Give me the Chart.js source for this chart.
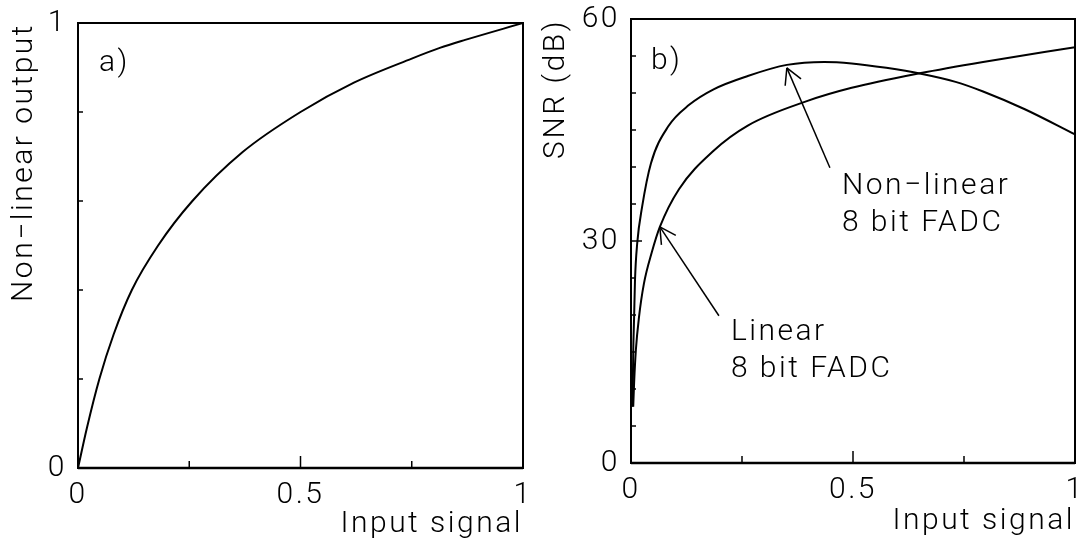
<!DOCTYPE html>
<html>
<head>
<meta charset="utf-8">
<script src="https://cdn.jsdelivr.net/npm/chart.js@4.4.0/dist/chart.umd.min.js"></script>
<style>
  html, body { margin: 0; padding: 0; background: #fff; }
  #wrap { position: relative; width: 1083px; height: 542px; }
  .box { position: absolute; top: 0; height: 542px; }
  #box-a { left: 0; width: 541px; }
  #box-b { left: 541px; width: 542px; }
</style>
</head>
<body>
<div id="wrap">
  <div class="box" id="box-a"><canvas id="grafico-a"></canvas></div>
  <div class="box" id="box-b"><canvas id="grafico-b"></canvas></div>
</div>
<script>
// panel a) transfer curve
const inputA  = [0, 0.02, 0.048, 0.08, 0.121, 0.18, 0.257, 0.37, 0.5, 0.62, 0.75, 0.813, 0.87, 1];
const outputA = [0, 0.09, 0.2, 0.3, 0.4, 0.5, 0.6, 0.71, 0.8, 0.866, 0.92, 0.944, 0.962, 1];

// panel b) SNR curves
const inputLin = [0.005, 0.007, 0.011, 0.018, 0.029, 0.047, 0.065, 0.108, 0.186, 0.263, 0.396, 0.497, 0.653, 0.793, 1];
const snrLin   = [7.6, 10.8, 15.3, 19.7, 24.2, 28.5, 31.9, 37.0, 42.2, 45.6, 48.9, 50.7, 52.7, 54.2, 56.2];
const inputNonLin = [0.003, 0.004, 0.005, 0.007, 0.009, 0.014, 0.025, 0.045, 0.084, 0.131, 0.186, 0.263, 0.351, 0.435, 0.497, 0.575, 0.653, 0.731, 0.793, 0.887, 1];
const snrNonLin   = [7.6, 9.9, 14.9, 19.7, 24.7, 29.7, 34.6, 40.5, 45.5, 48.4, 50.5, 52.3, 53.8, 54.2, 54.0, 53.4, 52.6, 51.5, 50.2, 47.8, 44.4];

// tick labels
const xTickLabels  = [0, 0.5, 1];
const yTickLabelsA = [0, 1];
const yTickLabelsB = [0, 30, 60];

// annotations of panel b), in data units
const notesB = [
  { lines: ['Non\u2212linear', '8 bit FADC'], x: 0.475, y: 37.3 },
  { lines: ['Linear', '8 bit FADC'], x: 0.225, y: 17.6 }
];
const arrowsB = [
  { from: [0.448, 39.9], to: [0.351, 53.4] },
  { from: [0.198, 19.9], to: [0.065, 31.9] }
];

const FONT = { family: 'Roboto, "DejaVu Sans", sans-serif', size: 30, weight: '300', lineHeight: 1 };
const CSS_FONT = '300 30px Roboto, "DejaVu Sans", sans-serif';

function toPoints(xs, ys) {
  return xs.map((x, i) => ({ x: x, y: ys[i] }));
}

function pick(labels) {
  return (v) => {
    const m = labels.find(l => Math.abs(l - v) < 1e-6);
    return m === undefined ? '' : String(m);
  };
}

function line(ctx, x1, y1, x2, y2) {
  ctx.beginPath();
  ctx.moveTo(x1, y1);
  ctx.lineTo(x2, y2);
  ctx.stroke();
}

// wider letter spacing like the plotter font
const spacing = {
  id: 'spacing',
  beforeDraw(chart) {
    chart.ctx.letterSpacing = '2.5px';
  }
};

// box + inward tick marks on the left and bottom axes
const frameTicks = {
  id: 'frameTicks',
  afterDraw(chart, args, opts) {
    const { ctx, chartArea: a, scales: { x, y } } = chart;
    ctx.save();
    ctx.strokeStyle = '#000';
    ctx.lineWidth = 2;
    ctx.strokeRect(a.left, a.top, a.right - a.left, a.bottom - a.top);
    ctx.lineWidth = 2.5;
    line(ctx, a.left, a.bottom, a.right, a.bottom);
    ctx.lineWidth = 1.5;
    x.ticks.forEach(t => {
      const px = x.getPixelForValue(t.value);
      const len = opts.xMajor.some(m => Math.abs(m - t.value) < 1e-6) ? 12 : 7;
      line(ctx, px, a.bottom, px, a.bottom - len);
    });
    y.ticks.forEach(t => {
      const py = y.getPixelForValue(t.value);
      const len = opts.yMajor.some(m => Math.abs(m - t.value) < 1e-6) ? 11 : 5;
      line(ctx, a.left, py, a.left + len, py);
    });
    ctx.restore();
  }
};

// panel letter, text notes and arrows
const notes = {
  id: 'notes',
  afterDraw(chart, args, opts) {
    const { ctx, scales: { x, y } } = chart;
    ctx.save();
    ctx.fillStyle = '#000';
    ctx.strokeStyle = '#000';
    ctx.font = CSS_FONT;
    ctx.textAlign = 'left';
    ctx.textBaseline = 'middle';
    ctx.fillText(opts.letter.text, x.getPixelForValue(opts.letter.x), y.getPixelForValue(opts.letter.y));
    (opts.texts || []).forEach(n => {
      const px = x.getPixelForValue(n.x);
      const py = y.getPixelForValue(n.y);
      n.lines.forEach((s, i) => ctx.fillText(s, px, py + i * 37));
    });
    ctx.lineWidth = 1.5;
    (opts.arrows || []).forEach(ar => {
      const x1 = x.getPixelForValue(ar.from[0]), y1 = y.getPixelForValue(ar.from[1]);
      const x2 = x.getPixelForValue(ar.to[0]), y2 = y.getPixelForValue(ar.to[1]);
      line(ctx, x1, y1, x2, y2);
      const ang = Math.atan2(y1 - y2, x1 - x2);
      [-0.5, 0.5].forEach(d => {
        line(ctx, x2, y2, x2 + 18 * Math.cos(ang + d), y2 + 18 * Math.sin(ang + d));
      });
    });
    ctx.restore();
  }
};

function makeChart(id, cfg) {
  return new Chart(document.getElementById(id).getContext('2d'), {
    type: 'scatter',
    data: { datasets: cfg.datasets },
    options: {
      responsive: true,
      maintainAspectRatio: false,
      animation: false,
      layout: { padding: cfg.padding },
      plugins: {
        legend: { display: false },
        tooltip: { enabled: false },
        frameTicks: cfg.ticks,
        notes: cfg.notes
      },
      elements: {
        point: { radius: 0 },
        line: { borderWidth: 2, borderColor: '#000', cubicInterpolationMode: 'monotone' }
      },
      scales: {
        x: {
          type: 'linear', min: 0, max: 1,
          grid: { display: false, drawTicks: false },
          border: { display: false },
          ticks: { stepSize: 0.25, autoSkip: false, maxRotation: 0, padding: 12, color: '#000', font: FONT, callback: pick(xTickLabels) },
          title: { display: true, text: 'Input signal', align: 'end', color: '#000', font: FONT, padding: { top: 0, bottom: cfg.xTitlePad } },
          afterFit: s => { s.height = cfg.xHeight; s.paddingLeft = 0; s.paddingRight = 0; }
        },
        y: {
          type: 'linear', min: cfg.yMin, max: cfg.yMax,
          grid: { display: false, drawTicks: false },
          border: { display: false },
          ticks: { stepSize: cfg.yStep, autoSkip: false, padding: 11, color: '#000', font: FONT, callback: pick(cfg.yLabels) },
          title: { display: true, text: cfg.yTitle, align: 'end', color: '#000', font: FONT, padding: { top: cfg.yTitlePad, bottom: 0 } },
          afterFit: s => { s.width = cfg.yWidth; s.paddingTop = 0; s.paddingBottom = 0; }
        }
      }
    },
    plugins: [spacing, frameTicks, notes]
  });
}

makeChart('grafico-a', {
  datasets: [{ data: toPoints(inputA, outputA), showLine: true, borderColor: '#000', borderWidth: 2 }],
  padding: { top: 23, right: 18, left: 0, bottom: 0 },
  xHeight: 74, yWidth: 78,
  yMin: 0, yMax: 1, yStep: 0.2, yLabels: yTickLabelsA,
  yTitle: 'Non\u2212linear output', yTitlePad: 9, xTitlePad: 3,
  ticks: { xMajor: [0.5], yMajor: [] },
  notes: { letter: { text: 'a)', x: 0.047, y: 0.908 } }
});

makeChart('grafico-b', {
  datasets: [
    { data: toPoints(inputNonLin, snrNonLin), showLine: true, borderColor: '#000', borderWidth: 2 },
    { data: toPoints(inputLin, snrLin), showLine: true, borderColor: '#000', borderWidth: 2 }
  ],
  padding: { top: 19, right: 8, left: 0, bottom: 0 },
  xHeight: 79, yWidth: 90,
  yMin: 0, yMax: 60, yStep: 5, yLabels: yTickLabelsB,
  yTitle: 'SNR (dB)', yTitlePad: 0, xTitlePad: 6,
  ticks: { xMajor: [0.5], yMajor: [30] },
  notes: { letter: { text: 'b)', x: 0.045, y: 54.2 }, texts: notesB, arrows: arrowsB }
});
</script>
</body>
</html>
